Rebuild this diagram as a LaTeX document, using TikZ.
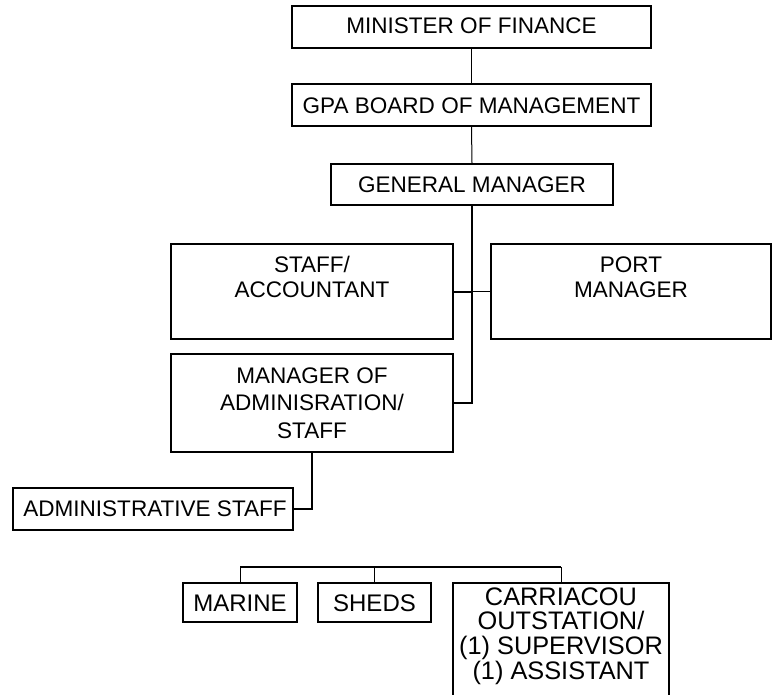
\documentclass[tikz,border=0pt]{standalone}
\usepackage{fontspec}
\setmainfont{Liberation Sans}
\usetikzlibrary{fit}
\begin{document}
\begin{tikzpicture}[x=0.75pt,y=-0.75pt,
  box/.style={draw=black,line width=1.5pt,inner sep=0pt,rectangle},
  txt/.style={inner sep=0pt,align=center,font=\fontsize{16.9}{19.1}\selectfont},
  txtw/.style={inner sep=0pt,align=center,font=\fontsize{16.9}{20.6}\selectfont},
  txtb/.style={inner sep=0pt,align=center,font=\fontsize{18}{18.4}\selectfont},
  txtc/.style={inner sep=0pt,align=center,font=\fontsize{19}{18.4}\selectfont},
  thinline/.style={draw=black,line width=0.75pt},
  thickline/.style={draw=black,line width=1.5pt}]
\useasboundingbox (0,0) rectangle (775,694);
\clip (0,0) rectangle (775,694);
\fill[white] (0,0) rectangle (775,694);
% boxes
\node[box,fit={(292,6) (651,48)}] (min) {};
\node[box,fit={(292,84) (651,126)}] (gpa) {};
\node[box,fit={(331,164) (613,205)}] (gm) {};
\node[box,fit={(171,244) (453,339)}] (staff) {};
\node[box,fit={(491,244) (771,339)}] (port) {};
\node[box,fit={(171,354) (453,452)}] (madm) {};
\node[box,fit={(13,488) (293,530)}] (adst) {};
\node[box,fit={(183,583) (297,622)}] (marine) {};
\node[box,fit={(318,583) (431,622)}] (sheds) {};
\node[box,fit={(453,583) (669,720)}] (carr) {};
% texts
\node[txt] (min-t) at (471.5,26) {MINISTER OF FINANCE};
\node[txt] (gpa-t) at (471.5,106) {GPA BOARD OF MANAGEMENT};
\node[txt] (gm-t) at (472,185) {GENERAL MANAGER};
\node[txt] (staff-t) at (312,277) {STAFF/\\ACCOUNTANT};
\node[txt] (port-t) at (631,277) {PORT\\MANAGER};
\node[txtw] (madm-t) at (312,403) {MANAGER OF\\ADMINISRATION/\\STAFF};
\node[txt] (adst-t) at (155,509) {ADMINISTRATIVE STAFF};
\node[txtb] (marine-t) at (240,603) {MARINE};
\node[txtb] (sheds-t) at (374.5,603) {SHEDS};
\node[txtc] (carr-t) at (561,636) {CARRIACOU\\OUTSTATION/\\(1) SUPERVISOR\\(1) ASSISTANT};
% connectors
\coordinate (bar) at (240,567);
\path[thinline] (min.south) -- (gpa.north);
\path[thinline] (gpa.south) -- (gm.north);
\path[thickline] (gm.south) -- (madm.east -| gm.south) -- (madm.east);
\path[thickline] (staff.east) -- (staff.east -| gm.south);
\path[thinline] (staff.east -| gm.south) -- (port.west);
\path[thickline] (madm.south) -- (madm.south |- adst.east) -- (adst.east);
\path[thickline] (marine.north |- bar) -- (carr.north |- bar);
\path[thinline] (marine.north |- bar) -- (marine.north);
\path[thinline] (sheds.north |- bar) -- (sheds.north);
\path[thinline] (carr.north |- bar) -- (carr.north);
\end{tikzpicture}
\end{document}
